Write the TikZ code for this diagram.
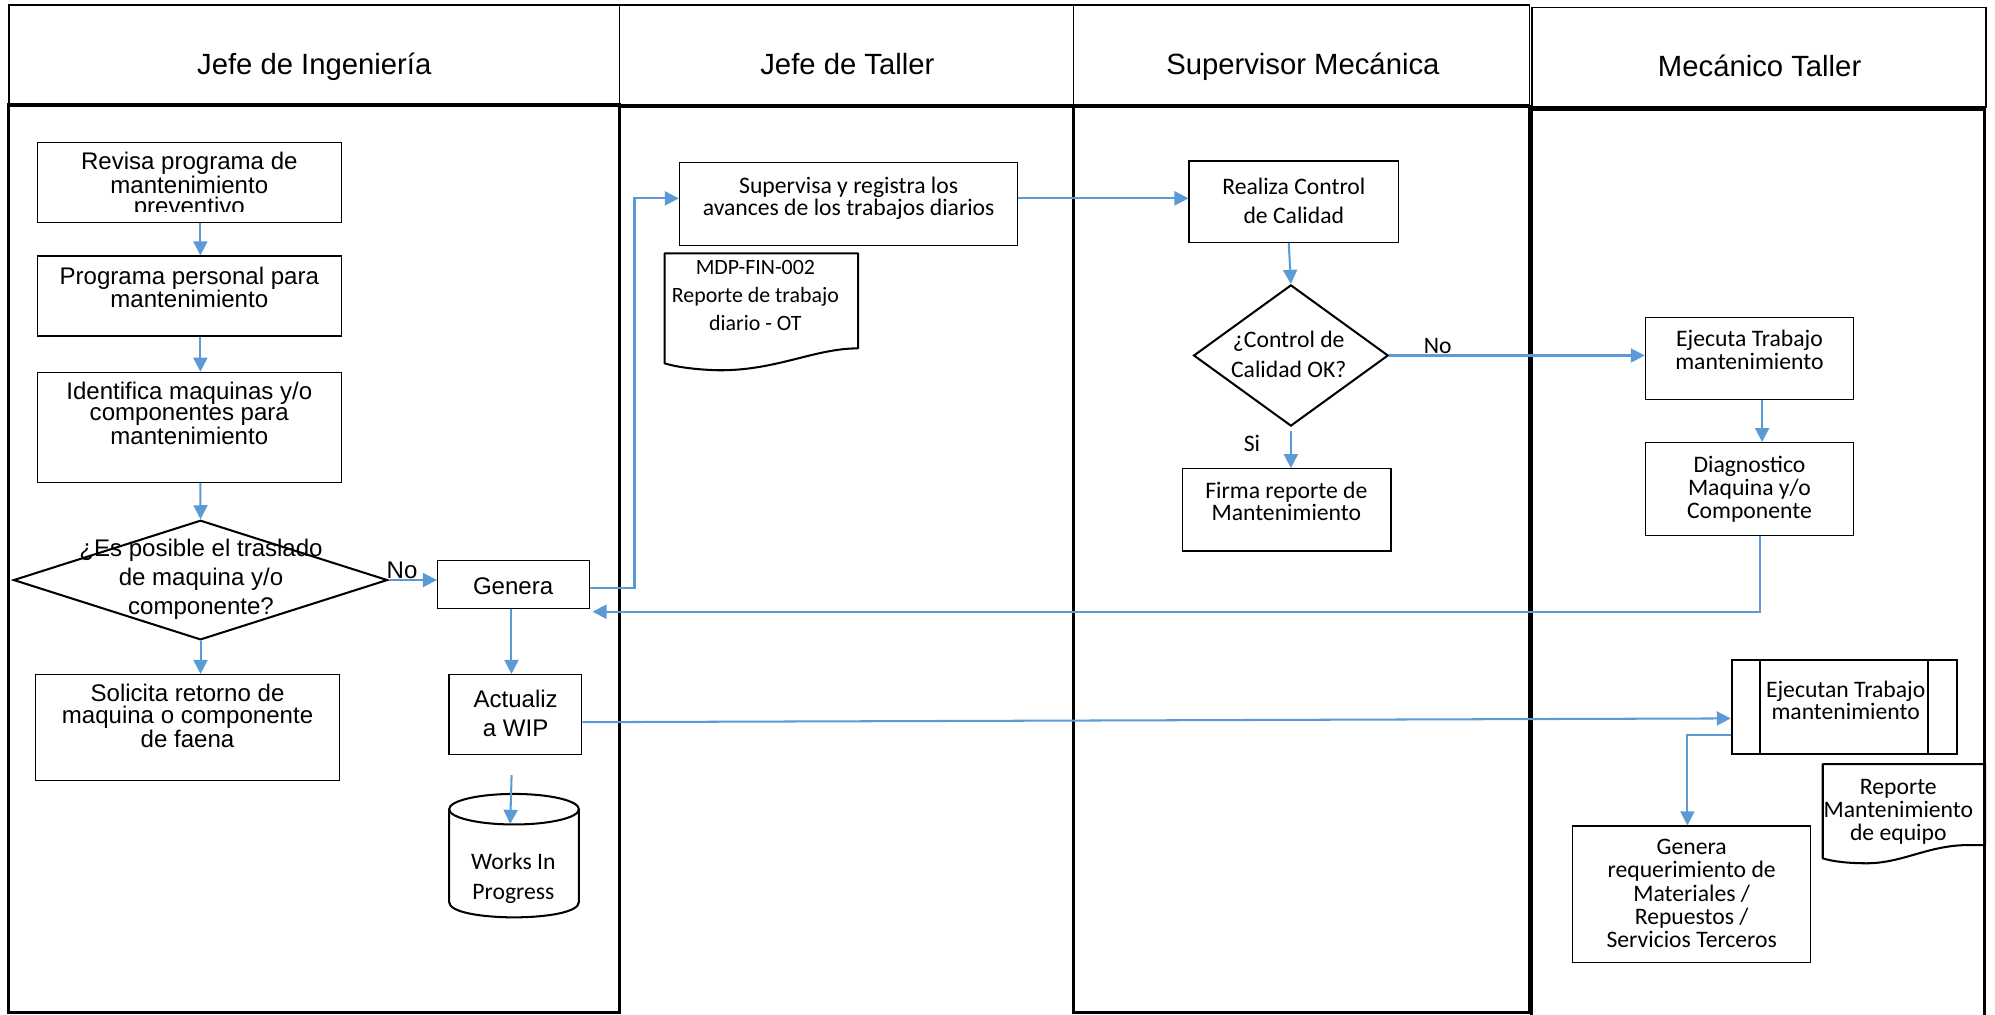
\documentclass[tikz,border=0pt]{standalone}
\usepackage{fontspec}
\setmainfont{Liberation Sans}
\newfontfamily\calfont{Carlito}
\usetikzlibrary{arrows.meta,shapes.geometric,calc}
\definecolor{flowblue}{RGB}{91,155,213}

\begin{document}
\begin{tikzpicture}[x=1pt,y=-1pt,
  headline/.style={line width=1pt},
  laneline/.style={line width=2.5pt},
  hdtext/.style={font=\fontsize{23}{27}\selectfont, inner sep=0pt, anchor=base},
  box/.style={draw, line width=1pt, inner sep=0pt},
  thickbox/.style={draw, line width=1.6pt, inner sep=0pt},
  decision/.style={draw, diamond, line width=1.6pt, inner sep=0pt},
  arialtxt/.style={font=\fontsize{18.9}{17}\selectfont, align=center, inner sep=0pt},
  calitxt/.style={font=\calfont\fontsize{18.6}{18}\selectfont, align=center, inner sep=0pt},
  flow/.style={draw=flowblue, line width=1.6pt, -{Triangle[length=11pt,width=11pt]}},
  docshape/.style={draw, line width=1.6pt, line join=round},
]
\useasboundingbox (0,0) rectangle (1568,797);
\fill[white] (0,0) rectangle (1568,797);

% ---- swimlane headers ----
\draw[headline] (7,4) rectangle (487,82);
\draw[headline] (487,4) rectangle (844,82);
\draw[headline] (844,4) rectangle (1202,82.5);
\draw[headline] (1204,6) rectangle (1561,84);
\node[hdtext] (h1) at (247,58.4) {Jefe de Ingeniería};
\node[hdtext] (h2) at (666,58.4) {Jefe de Taller};
\node[hdtext] (h3) at (1024,58.4) {Supervisor Mecánica};
\node[hdtext] (h4) at (1383,60.5) {Mecánico Taller};

% ---- swimlane bodies ----
\draw[laneline] (7,82.5) rectangle (487,795.5);
\draw[laneline] (487,83.5) -- (844,83.5);
\draw[laneline] (844,83.5) rectangle (1202,795.5);
\draw[laneline] (1204,800) -- (1204,86) -- (1560,86) -- (1560,800);

% ---- Jefe de Ingenieria ----
\coordinate (colA) at (157.5,0);
\coordinate (colG) at (402,0);
\node[box, minimum width=239.2, minimum height=62.8] (bA) at (148.8,143.3) {};
\begin{scope}
  \clip (29.2,111.9) rectangle (268.4,166.6);
  \node[arialtxt] (tA) at (148.8,146) {Revisa programa de\\mantenimiento\\preventivo};
\end{scope}
\node[box, minimum width=239.2, minimum height=62.9] (bB) at (148.8,232.65) {};
\node[arialtxt] (tB) at (148.8,225.8) {Programa personal para\\mantenimiento};
\node[box, minimum width=239.2, minimum height=86.5] (bC) at (148.8,335.85) {};
\node[arialtxt] (tC) at (148.8,324.7) {Identifica maquinas y/o\\componentes para\\mantenimiento};
\node[decision, minimum width=294, minimum height=94] (dA) at (157.6,455.9) {};
\node[arialtxt, font=\fontsize{18.9}{22.75}\selectfont] (tD) at (158,455.3) {¿Es posible el traslado\\de maquina y/o\\componente?};
\node[arialtxt, anchor=base] (tNo1) at (316,454.8) {No};
\node[box, minimum width=119.3, minimum height=37.7] (gen) at (403.55,459.45) {};
\node[arialtxt, anchor=base] (tGen) at (403.3,466.9) {Genera};
\node[box, minimum width=239.3, minimum height=83.1] (bE) at (147.35,571.75) {};
\node[arialtxt] (tE) at (147.4,562.6) {Solicita retorno de\\maquina o componente\\de faena};
\node[box, minimum width=104.2, minimum height=62.6] (act) at (405.1,561.5) {};
\node[arialtxt, font=\fontsize{18.9}{23.3}\selectfont] (tAct) at (405.3,560.7) {Actualiz\\a WIP};

% data store
\draw[docshape] (353,636) -- (353,709) .. controls (353,725) and (455,725) .. (455,709) -- (455,636);
\draw[docshape] (404,636) ellipse [x radius=51, y radius=12];
\coordinate (wiptop) at (401,647.5);
\node[calitxt, font=\calfont\fontsize{18.6}{23.2}\selectfont] (tWip) at (403.5,690.2) {Works In\\Progress};

% ---- Jefe de Taller ----
\node[box, minimum width=265.6, minimum height=64.9] (sup) at (666.8,160.35) {};
\node[calitxt, font=\calfont\fontsize{18.6}{17.6}\selectfont] (tSup) at (667,155.9) {Supervisa y registra los\\avances de los trabajos diarios};
\draw[docshape] (674.4,273.8) .. controls (640,273.8) and (610,291.5) .. (564.4,291)
  .. controls (545,290.5) and (530,288) .. (522.4,285.6) -- (522.4,199.1) -- (674.4,199.1) -- cycle;
\node[calitxt, font=\calfont\fontsize{17.2}{22}\selectfont] (tMdp) at (593.7,232.6) {MDP-FIN-002\\Reporte de trabajo\\diario - OT};

% ---- Supervisor Mecanica ----
\node[box, minimum width=164.6, minimum height=64] (real) at (1016.9,158.5) {};
\node[calitxt, font=\calfont\fontsize{18.6}{23.3}\selectfont] (tReal) at (1016.9,157.8) {Realiza Control\\de Calidad};
\node[decision, minimum width=153, minimum height=111] (dB) at (1014.6,279.4) {};
\node[calitxt, font=\calfont\fontsize{18.6}{23.8}\selectfont] (tDB) at (1012.9,278.4) {¿Control de\\Calidad OK?};
\node[calitxt, anchor=base] (tNo2) at (1130,278.2) {No};
\node[calitxt, anchor=base] (tSi) at (984,354.5) {Si};
\node[box, minimum width=163.6, minimum height=64.7] (firma) at (1011.4,400.75) {};
\node[calitxt, font=\calfont\fontsize{18.6}{17.5}\selectfont] (tFirma) at (1011,393.9) {Firma reporte de\\Mantenimiento};

% ---- Mecanico Taller ----
\node[box, minimum width=163.5, minimum height=64.4] (eje) at (1374.95,281.9) {};
\node[calitxt, font=\calfont\fontsize{18.6}{17.8}\selectfont] (tEje) at (1375,274.9) {Ejecuta Trabajo\\mantenimiento};
\node[box, minimum width=163.5, minimum height=73.1] (diag) at (1374.95,384.45) {};
\node[calitxt, font=\calfont\fontsize{18.6}{18.1}\selectfont] (tDiag) at (1375,384.5) {Diagnostico\\Maquina y/o\\Componente};
\node[thickbox, minimum width=176.8, minimum height=73.9] (ejn) at (1449.5,555.65) {};
\draw[line width=1.6pt] (1383.3,518.7) -- (1383.3,592.6) (1515.6,518.7) -- (1515.6,592.6);
\node[calitxt, font=\calfont\fontsize{18.6}{17.3}\selectfont] (tEjn) at (1450.6,550.2) {Ejecutan Trabajo\\mantenimiento};
\node[box, minimum width=187.1, minimum height=107.2] (gr) at (1329.65,702.8) {};
\node[calitxt, font=\calfont\fontsize{18.6}{18.35}\selectfont] (tGr) at (1329.6,702.2) {Genera\\requerimiento de\\Materiales /\\Repuestos /\\Servicios Terceros};
\draw[docshape] (1560.2,664.2) -- (1546,664.2) .. controls (1515,664.5) and (1495,678.5) .. (1467.2,678.5)
  .. controls (1452,678.5) and (1440,677) .. (1432.6,674.6) -- (1432.6,600.5) -- (1560.2,600.5) -- cycle;
\node[calitxt, font=\calfont\fontsize{18.6}{18.3}\selectfont] (tRep) at (1492,638.1) {Reporte\\Mantenimiento\\de equipo};

% ---- connectors ----
\draw[flow] (bA.south -| colA) -- (bB.north -| colA);
\draw[flow] (bB.south -| colA) -- (bC.north -| colA);
\draw[flow] (bC.south -| colA) -- (dA.north);
\draw[flow] (dA.south) -- (bE.north -| dA.south);
\draw[flow] (dA.east) -- (dA.east -| gen.west);
\draw[flow] (gen.south -| colG) -- (act.north -| colG);
\draw[flow] ([xshift=-3pt,yshift=-16pt]act.south) -- (wiptop);
\draw[flow] ([yshift=-2.85pt]gen.east) -- ++(35,0) |- ([yshift=4.45pt]sup.west);
\draw[flow] ([yshift=4.45pt]sup.east) -- ([yshift=4.45pt]sup.east -| real.west);
\draw[flow] ([xshift=-4pt]real.south) -- (dB.north);
\draw[flow] (dB.east) -- (dB.east -| eje.west);
\draw[flow] ([yshift=-3pt]dB.south) -- (firma.north -| dB.south);
\draw[flow] ([xshift=10pt]eje.south) -- ([xshift=10pt]diag.north);
\draw[flow] ([xshift=8.5pt]diag.south) |- ([shift={(2,2)}]gen.south east);
\draw[flow] ([yshift=-6.1pt]act.east) -- ([yshift=-9pt]ejn.west);
\draw[flow] ([yshift=-22pt]ejn.west) -| ([xshift=-3.4pt]gr.north);
\end{tikzpicture}
\end{document}
